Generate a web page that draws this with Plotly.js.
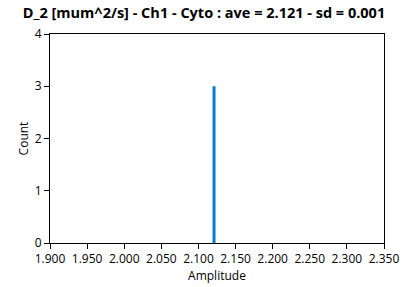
<!DOCTYPE html>
<html>
<head>
<meta charset="utf-8">
<script src="https://cdn.plot.ly/plotly-3.0.1.min.js"></script>
<style>html,body{margin:0;padding:0;background:#fff;}#chart{width:408px;height:287px;}</style>
</head>
<body>
<div id="chart"></div>
<script>
const binCenters = [2.121];
const counts = [3];
const xTicks = [1.90, 1.95, 2.00, 2.05, 2.10, 2.15, 2.20, 2.25, 2.30, 2.35];
const xTickLabels = ["1.900","1.950","2.000","2.050","2.100","2.150","2.200","2.250","2.300","2.350"];
const yTicks = [0, 1, 2, 3, 4];

const font = "Open Sans, Noto Sans, DejaVu Sans, sans-serif";
Plotly.newPlot('chart', [{
  type: 'bar',
  x: binCenters,
  y: counts,
  width: 0.004,
  marker: {color: '#0A7BC8', line: {width: 0}},
  hoverinfo: 'none'
}], {
  width: 408, height: 287,
  margin: {l: 50, r: 24, t: 34, b: 44},
  paper_bgcolor: '#fff', plot_bgcolor: '#fff',
  showlegend: false,
  title: {text: 'D_2 [mum^2/s] - Ch1 - Cyto : ave = 2.121 - sd = 0.001', font: {family: font, size: 14.5, color: '#000', weight: 'bold'}, x: 0.5, xanchor: 'center', y: 0.955, yanchor: 'middle'},
  xaxis: {
    range: [1.9, 2.35], tickvals: xTicks, ticktext: xTickLabels,
    ticks: 'outside', ticklen: 5, tickcolor: '#000', tickwidth: 1,
    showline: true, linecolor: '#000', linewidth: 1, mirror: true,
    showgrid: false, zeroline: false,
    tickfont: {family: font, size: 12, color: '#000'},
    title: {text: 'Amplitude', font: {family: font, size: 12, color: '#000'}, standoff: 4}
  },
  yaxis: {
    range: [0, 4], tickvals: yTicks,
    ticks: 'outside', ticklen: 5, tickcolor: '#000', tickwidth: 1,
    showline: true, linecolor: '#000', linewidth: 1, mirror: true,
    showgrid: false, zeroline: false,
    tickfont: {family: font, size: 12, color: '#000'},
    title: {text: 'Count', font: {family: font, size: 12, color: '#000'}, standoff: 3}
  }
}, {displayModeBar: false, staticPlot: true});
</script>
</body>
</html>
